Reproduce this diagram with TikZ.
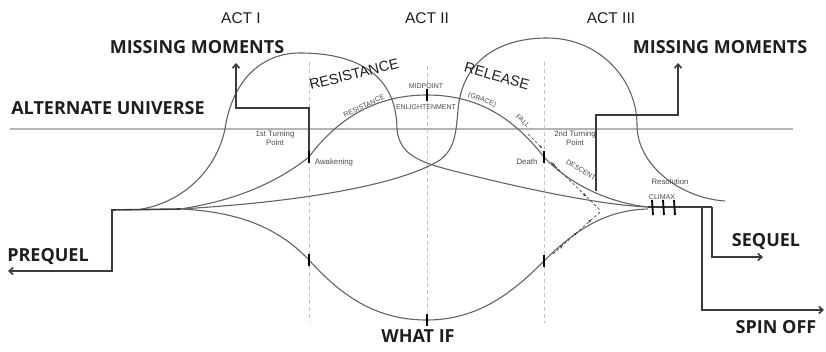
\documentclass[tikz,border=0pt]{standalone}
\usepackage{fontspec}
\setmainfont{Liberation Sans}
\newfontfamily\opensans{Open Sans}
\usetikzlibrary{arrows.meta,decorations.markings}
\definecolor{curvec}{HTML}{636363}
\definecolor{darkc}{HTML}{3A3A3A}
\definecolor{guidec}{HTML}{C4C4C4}
\definecolor{horizc}{HTML}{B4B4B4}
\definecolor{textc}{HTML}{1E1E1E}
\definecolor{smallc}{HTML}{4A4A4A}
\begin{document}
\begin{tikzpicture}[x=1pt,y=-1pt,
  curve/.style={draw=curvec, line width=1.1pt},
  heavy/.style={draw=darkc, line width=1.6pt},
  tickm/.style={draw=black, line width=1.8pt},
  guide/.style={draw=guidec, line width=0.8pt, dash pattern=on 4pt off 3pt},
  dasharr/.style={draw=darkc, line width=0.6pt, dash pattern=on 3pt off 2pt},
  barb/.style={-{Straight Barb[length=4pt,width=7pt]}},
  bigl/.style={font=\opensans\bfseries\fontsize{18}{20}\selectfont, text=textc, inner sep=0pt},
  actl/.style={font=\fontsize{15.5}{17}\selectfont, text=textc, inner sep=0pt},
  arcl/.style={font=\fontsize{14.5}{16}\selectfont, text=textc, inner sep=0pt},
  small/.style={font=\fontsize{7.8}{8.6}\selectfont, text=smallc, inner sep=0pt},
  smaller/.style={font=\fontsize{7}{8}\selectfont, text=smallc, inner sep=0pt}
]
\useasboundingbox (0,0) rectangle (826,351);

% key points
\coordinate (fan) at (135,210);
\coordinate (fanB) at (180,209);
\coordinate (clim) at (648,207);
\coordinate (awk) at (309,157);
\coordinate (mid) at (427,95);
\coordinate (death) at (544,157);
\coordinate (lo1) at (309,260);
\coordinate (whatif) at (427,320);
\coordinate (lo2) at (544,261);
\coordinate (desc) at (596,191);
\coordinate (vtx) at (601,211);

% horizon line
\draw[draw=horizc, line width=1.4pt] (10,129) -- (793,129);

% act dividers
\draw[guide] (309,62) -- (309,322);
\draw[guide] (427,66) -- (427,321);
\draw[guide] (544,62) -- (544,323);

% curve A: outer left bubble
\draw[curve] (fan) .. controls (180,205) and (216,172) .. (225,129)
  .. controls (232,82) and (260,53) .. (300,53)
  .. controls (350,53) and (397,70) .. (397,130)
  .. controls (400,155) and (420,162) .. (450,170)
  .. controls (520,188) and (600,205) .. (clim);

% curve C: right bubble
\draw[curve] (fanB) .. controls (300,202) and (400,185) .. (440,160)
  .. controls (456,148) and (456,130) .. (458,110)
  .. controls (462,60) and (500,38) .. (547,38)
  .. controls (600,38) and (637,80) .. (637,125)
  .. controls (637,165) and (680,198) .. (725,201);

% curve B: main arc
\draw[curve] (fanB) .. controls (240,200) and (280,180) .. (awk)
  .. controls (340,115) and (380,95) .. (mid)
  .. controls (480,95) and (515,120) .. (death)
  .. controls (570,185) and (610,203) .. (clim);

% curve D: lower what-if arc
\draw[curve] (fanB) .. controls (250,212) and (285,235) .. (lo1)
  .. controls (345,300) and (380,320) .. (whatif)
  .. controls (480,320) and (515,290) .. (lo2)
  .. controls (580,225) and (610,210) .. (648,209);

% prequel
\draw[heavy, barb] (fanB) -- (112,210) -- (112,271) -- (8,271);
% climax line, sequel, spin off
\draw[heavy] (clim) -- (712,207);
\draw[heavy, barb] (712,207) -- (712,257) -- (763,257);
\draw[heavy, barb] (702,207) -- (702,310) -- (824,310);

% missing moments
\draw[heavy, barb] (awk) -- (309,108) -- (236,108) -- (236,63);
\draw[heavy, barb] (desc) -- (596,115) -- (678,115) -- (678,63);

% dashed arrows
\draw[dasharr, -{Stealth[length=3pt,width=2.5pt]}] (528,134) -- (542,148);
\draw[dasharr, postaction={decorate}, decoration={markings,
   mark=at position 0.08 with {\arrow{Stealth[length=3.5pt,width=3pt]}},
   mark=at position 0.7 with {\arrow{Stealth[length=3.5pt,width=3pt]}}}]
   (551,162) -- (vtx);
\draw[dasharr, postaction={decorate}, decoration={markings,
   mark=at position 0.2 with {\arrow{Stealth[length=3.5pt,width=3pt]}},
   mark=at position 0.5 with {\arrow{Stealth[length=3.5pt,width=3pt]}},
   mark=at position 0.8 with {\arrow{Stealth[length=3.5pt,width=3pt]}}}]
   (553,254) -- (vtx);

% ticks
\draw[tickm] (309,151) -- (309,163);
\draw[tickm] (427,89) -- (427,101);
\draw[tickm] (544,151) -- (544,163);
\draw[tickm] (309,254) -- (309,266);
\draw[tickm] (544,255) -- (544,267);
\draw[tickm] (427,314) -- (427,326);
\draw[tickm] (652,200) -- (653,215);
\draw[tickm] (663,200) -- (664,215);
\draw[tickm] (674,200) -- (675,215);

% labels
\node[actl] (act1) at (241,18) {ACT I};
\node[actl] (act2) at (427,18) {ACT II};
\node[actl] (act3) at (611,18) {ACT III};
\node[bigl] (mm1) at (197,47) {MISSING MOMENTS};
\node[bigl] (mm2) at (720,47) {MISSING MOMENTS};
\node[bigl] (au) at (108,108) {ALTERNATE UNIVERSE};
\node[bigl] (preq) at (48,256) {PREQUEL};
\node[bigl] (seq) at (766,241) {SEQUEL};
\node[bigl] (spin) at (776,327) {SPIN OFF};
\node[bigl] (wif) at (418,336) {WHAT IF};

\node[arcl, rotate=14] (res) at (354,74) {RESISTANCE};
\node[arcl, rotate=-16] (rel) at (497,76) {RELEASE};
\node[smaller, rotate=25] (res2) at (364,106) {RESISTANCE};
\node[smaller] (midp) at (426,86) {MIDPOINT};
\node[smaller] (enl) at (426,107) {ENLIGHTENMENT};
\node[smaller, rotate=-22] (grace) at (482,100) {(GRACE)};
\node[smaller, rotate=-42] (fall) at (523,121) {FALL};
\node[smaller, rotate=-32] (descl) at (581,170) {DESCENT};
\node[small, align=center] (tp1) at (275,138) {1st Turning\\Point};
\node[small] (awl) at (334,162) {Awakening};
\node[small, align=center] (tp2) at (575,138) {2nd Turning\\Point};
\node[small] (dth) at (527,162) {Death};
\node[small] (resl) at (670,182) {Resolution};
\node[smaller] (clx) at (662,197) {CLIMAX};
\end{tikzpicture}
\end{document}
